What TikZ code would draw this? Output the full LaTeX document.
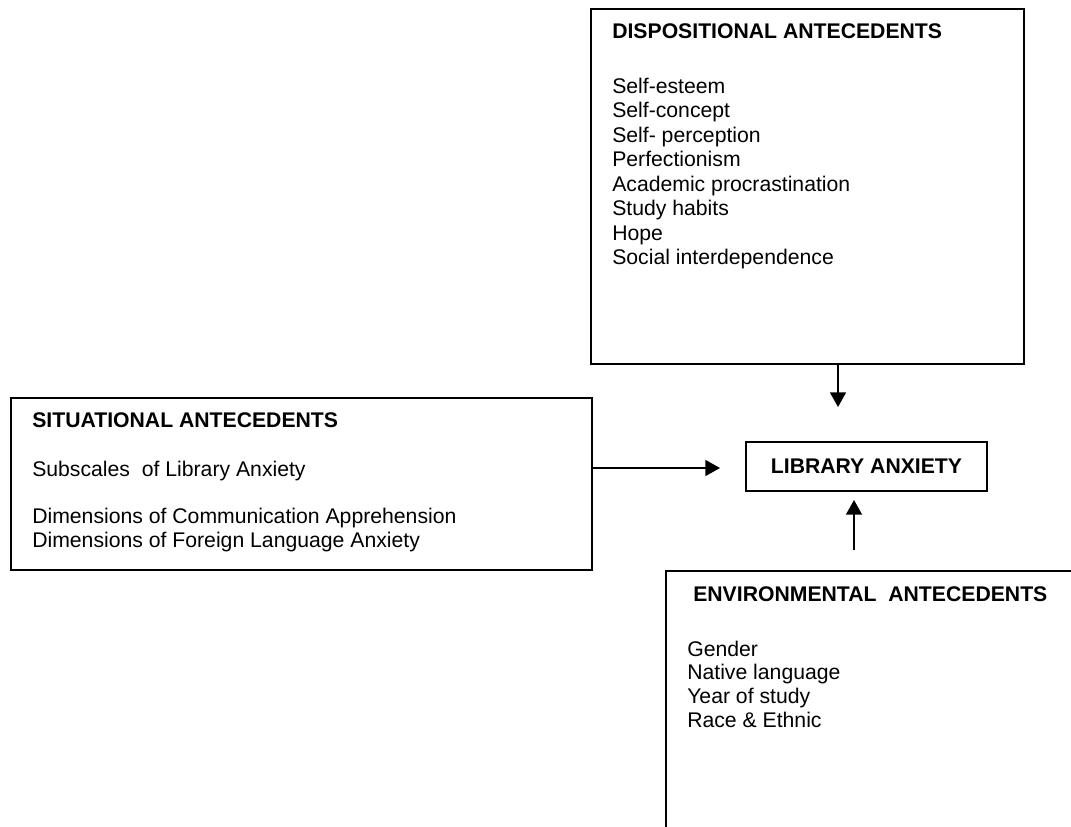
\documentclass[tikz,border=0pt]{standalone}
\usepackage{fontspec}
\setmainfont{Liberation Sans}
\usetikzlibrary{arrows.meta}
\tikzset{
  box/.style={draw, line width=1.2pt, inner sep=0pt, anchor=north west},
  txt/.style={anchor=base west, inner sep=0pt, font=\fontsize{15.9}{18.3}\selectfont},
  head/.style={txt, font=\fontsize{15.9}{18.3}\selectfont\bfseries},
  link/.style={line width=1.2pt, -{Triangle[length=11pt,width=12pt]}},
}
\begin{document}
\begin{tikzpicture}[x=0.75pt,y=-0.75pt]
\useasboundingbox (0,0) rectangle (1071,826);
\clip (0,0) rectangle (1071,826);

% boxes
\node[box, minimum width=324.75pt, minimum height=266.25pt] (disp) at (590,8) {};
\node[box, minimum width=435.75pt, minimum height=129pt] (sit) at (10,397) {};
\node[box, minimum width=315pt, minimum height=210pt] (env) at (665,570) {};
\node[draw, line width=1.2pt, inner sep=0pt, minimum width=180.75pt, minimum height=36.75pt,
      font=\fontsize{15.9}{18.3}\selectfont\bfseries] (la) at (866.5,466.5) {LIBRARY ANXIETY};

% dispositional antecedents
\node[head] (dtitle) at (612,38) {DISPOSITIONAL ANTECEDENTS};
\foreach \t [count=\i from 0] in {Self-esteem, Self-concept, Self- perception, Perfectionism,
    Academic procrastination, Study habits, Hope, Social interdependence}
  \node[txt] (d\i) at (612,{93+24.57*\i}) {\t};

% situational antecedents
\node[head] (stitle) at (32,427) {SITUATIONAL ANTECEDENTS};
\node[txt] (s0) at (32,476) {Subscales\ \ of Library Anxiety};
\node[txt] (s1) at (32,523) {Dimensions of Communication Apprehension};
\node[txt] (s2) at (32,547) {Dimensions of Foreign Language Anxiety};

% environmental antecedents
\node[head] (etitle) at (693,601) {ENVIRONMENTAL\ \ ANTECEDENTS};
\foreach \t [count=\i from 0] in {Gender, Native language, Year of study, Race \& Ethnic}
  \node[txt] (e\i) at (687,{656+23.7*\i}) {\t};

% connectors
\coordinate (dtip) at (838,407);
\coordinate (htip) at (720,468);
\coordinate (utail) at (854,550);
\coordinate (utip) at (854,500);
\draw[link] (disp.south -| dtip) -- (dtip);
\draw[link] (sit.east |- htip) -- (htip);
\draw[link] (utail) -- (utip);
\end{tikzpicture}
\end{document}
